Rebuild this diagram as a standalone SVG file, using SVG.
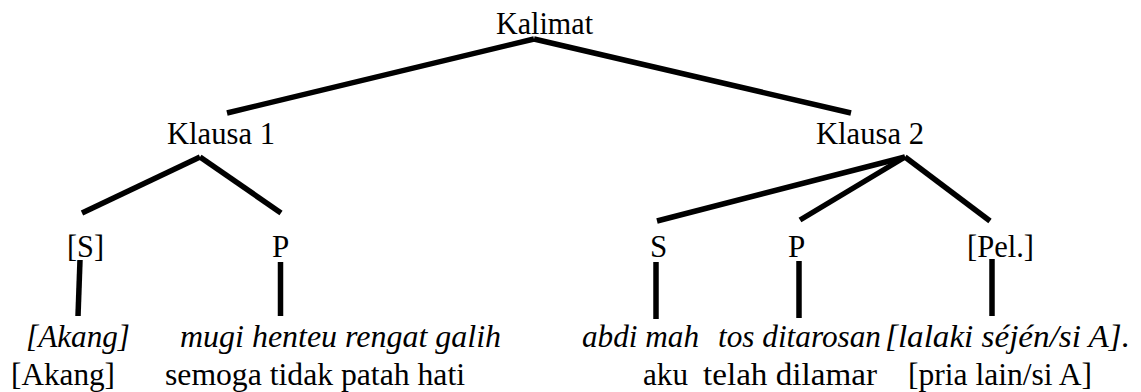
<svg xmlns="http://www.w3.org/2000/svg" width="1141" height="392" viewBox="0 0 1141 392">
<style>
text{font-size:31px;fill:#000}
.it{font-style:italic}
.c line{stroke:#000;stroke-width:5.5;stroke-linecap:butt}
</style>
<rect width="1141" height="392" fill="#fff"/>
<g class="c" id="connectors">
<line x1="534" y1="39" x2="227" y2="113"/>
<line x1="534" y1="39" x2="851" y2="113"/>
<line x1="200" y1="157" x2="82" y2="213"/>
<line x1="200" y1="157" x2="281" y2="213"/>
<line x1="905" y1="157" x2="657" y2="221"/>
<line x1="905" y1="157" x2="800" y2="220"/>
<line x1="905" y1="157" x2="990" y2="221"/>
<line x1="80" y1="260" x2="78" y2="316"/>
<line x1="280.5" y1="262" x2="280.5" y2="316"/>
<line x1="656" y1="262" x2="656" y2="319"/>
<line x1="799" y1="261" x2="799" y2="318"/>
<line x1="992" y1="259" x2="992" y2="316"/>
</g>
<g font-family="Liberation Serif, Times New Roman, DejaVu Serif, serif">
<g id="kalimat"><text x="496" y="34" textLength="97" lengthAdjust="spacingAndGlyphs">Kalimat</text></g>
<g id="klausa1"><text x="167" y="144" textLength="108" lengthAdjust="spacingAndGlyphs">Klausa 1</text></g>
<g id="klausa2"><text x="816" y="144" textLength="108" lengthAdjust="spacingAndGlyphs">Klausa 2</text></g>
<g id="s1"><text x="67" y="257" textLength="37" lengthAdjust="spacingAndGlyphs">[S]</text></g>
<g id="p1"><text x="272" y="257">P</text></g>
<g id="s2"><text x="650" y="257">S</text></g>
<g id="p2"><text x="788" y="257">P</text></g>
<g id="pel"><text x="967" y="257" textLength="67" lengthAdjust="spacingAndGlyphs">[Pel.]</text></g>
<g id="leaf-akang">
<text class="it" x="26" y="347" textLength="104" lengthAdjust="spacingAndGlyphs">[Akang]</text>
<text x="11" y="385" textLength="104" lengthAdjust="spacingAndGlyphs">[Akang]</text>
</g>
<g id="leaf-mugi">
<text class="it" x="180" y="347" textLength="321" lengthAdjust="spacingAndGlyphs">mugi henteu rengat galih</text>
<text x="165" y="385" textLength="300" lengthAdjust="spacingAndGlyphs">semoga tidak patah hati</text>
</g>
<g id="leaf-abdi">
<text class="it" x="582" y="347" textLength="117" lengthAdjust="spacingAndGlyphs">abdi mah</text>
<text x="643" y="385" textLength="45" lengthAdjust="spacingAndGlyphs">aku</text>
</g>
<g id="leaf-tos">
<text class="it" x="718" y="347" textLength="163" lengthAdjust="spacingAndGlyphs">tos ditarosan</text>
<text x="703" y="385" textLength="174" lengthAdjust="spacingAndGlyphs">telah dilamar</text>
</g>
<g id="leaf-lalaki">
<text class="it" x="885" y="347" textLength="245" lengthAdjust="spacingAndGlyphs">[lalaki séjén/si A].</text>
<text x="908" y="385" textLength="184" lengthAdjust="spacingAndGlyphs">[pria lain/si A]</text>
</g>
</g>
</svg>
